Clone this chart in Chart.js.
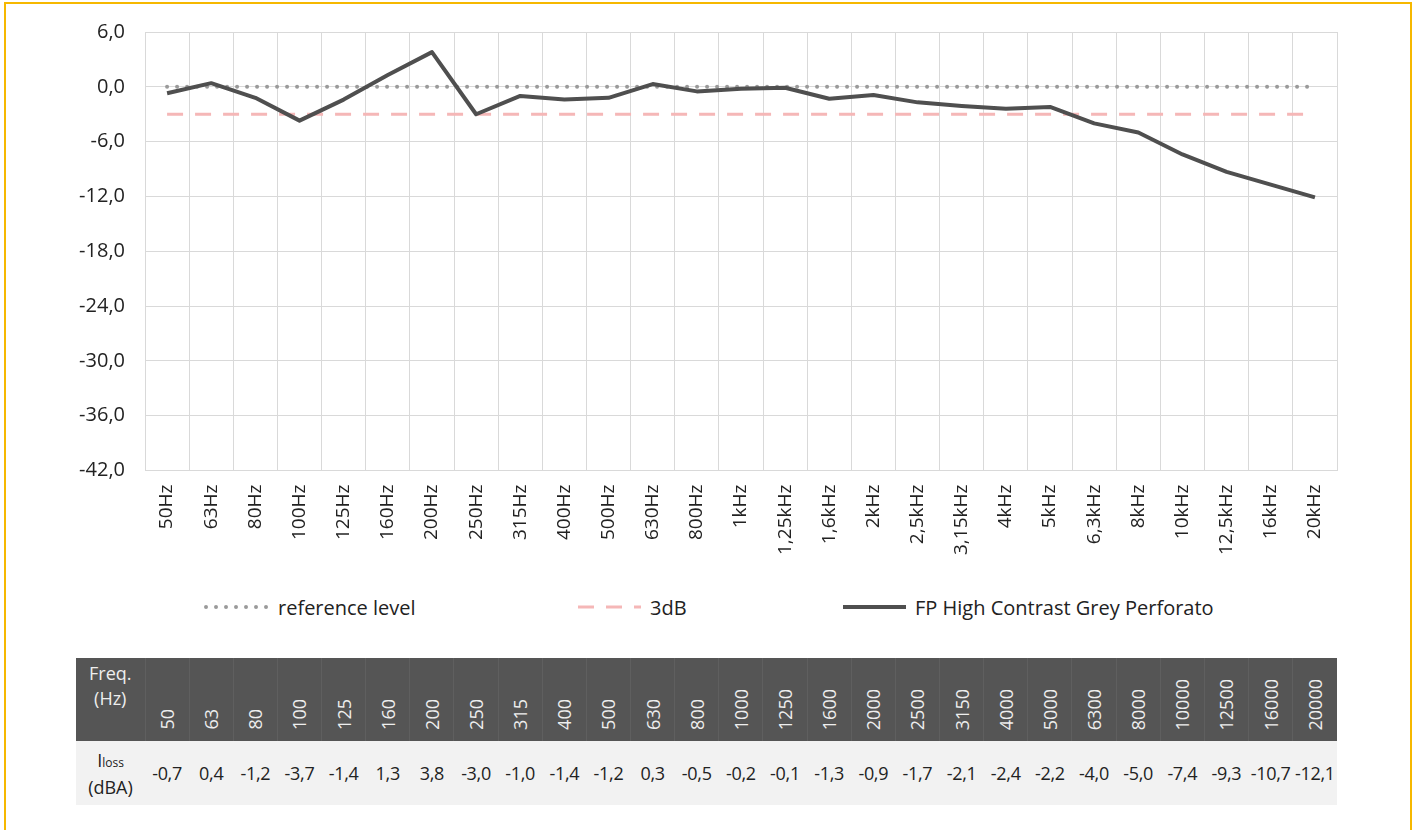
<!DOCTYPE html>
<html>
<head>
<meta charset="utf-8">
<script src="https://cdn.jsdelivr.net/npm/chart.js@4.4.0/dist/chart.umd.min.js"></script>
<style>
  body { margin: 0; background: #fff; font-family: "Open Sans", sans-serif; color: #222; }
  #frame { position: absolute; left: 4px; top: 2px; width: 1408px; height: 900px; border: 2px solid #f6b800; box-sizing: border-box; }
  #chartBox { position: absolute; left: 0; top: 0; width: 1415px; height: 569px; }
  #legend { position: absolute; left: 0; top: 593px; width: 1415px; height: 28px; }
  .lg-item { position: absolute; top: 0; display: flex; align-items: center; font-size: 20px; color: #222; }
  .lg-item canvas { margin-right: 7px; }
  #freqTable { position: absolute; left: 76px; top: 658px; border-collapse: collapse; table-layout: fixed; width: 1261px; }
  #freqTable td { padding: 0; text-align: center; }
  #freqTable tr.head td { background: #555; height: 80px; color: #eee; font-size: 18px; vertical-align: bottom; border-left: 1px solid #5f5f5f; }
  #freqTable tr.head td.first { vertical-align: top; padding-top: 3px; line-height: 25px; border-left: none; font-size: 18px; }
  #freqTable tr.head td .rot { writing-mode: vertical-rl; transform: rotate(180deg); display: inline-block; padding-top: 6px; }
  #freqTable tr.vals td { background: #f2f2f2; height: 64px; font-size: 18px; color: #222; white-space: nowrap; letter-spacing: -0.3px; }
  #freqTable tr.vals td.first { line-height: 24px; letter-spacing: 0; }
  sub { font-size: 12px; vertical-align: 0; }
</style>
</head>
<body>
<div id="frame"></div>
<div id="chartBox"><canvas id="lossChart"></canvas></div>
<div id="legend"></div>
<table id="freqTable">
  <colgroup id="cols"></colgroup>
  <tr class="head" id="headRow"><td class="first">Freq.<br>(Hz)</td></tr>
  <tr class="vals" id="valRow"><td class="first">I<sub>loss</sub><br>(dBA)</td></tr>
</table>
<script>
// frequency bands (chart labels + table header)
const freqLabels = ['50Hz', '63Hz', '80Hz', '100Hz', '125Hz', '160Hz', '200Hz', '250Hz', '315Hz', '400Hz',
    '500Hz', '630Hz', '800Hz', '1kHz', '1,25kHz', '1,6kHz', '2kHz', '2,5kHz', '3,15kHz', '4kHz',
    '5kHz', '6,3kHz', '8kHz', '10kHz', '12,5kHz', '16kHz', '20kHz'];
const freqHz = [50, 63, 80, 100, 125, 160, 200, 250, 315, 400, 500, 630, 800, 1000, 1250, 1600, 2000,
    2500, 3150, 4000, 5000, 6300, 8000, 10000, 12500, 16000, 20000];

// insertion loss, dBA
const lossValues = [-0.7, 0.4, -1.2, -3.7, -1.4, 1.3, 3.8, -3.0, -1.0, -1.4, -1.2, 0.3, -0.5, -0.2, -0.1,
    -1.3, -0.9, -1.7, -2.1, -2.4, -2.2, -4.0, -5.0, -7.4, -9.3, -10.7, -12.1];
const referenceLevel = [0, 0, 0, 0, 0, 0, 0, 0, 0, 0, 0, 0, 0, 0, 0, 0, 0, 0, 0, 0, 0, 0, 0, 0, 0, 0, 0];
const threshold3dB = [-3, -3, -3, -3, -3, -3, -3, -3, -3, -3, -3, -3, -3, -3, -3, -3, -3, -3, -3, -3, -3, -3, -3, -3, -3, -3, -3];

// y axis range
const yMin = -42, yMax = 6, yStep = 6;

const fmt = v => v.toFixed(1).replace('.', ',');

const datasets = [
    {
        label: 'reference level',
        data: referenceLevel,
        borderColor: '#9a9a9a',
        borderWidth: 4,
        borderDash: [0, 10],
        borderCapStyle: 'round',
        pointRadius: 0,
        order: 2
    },
    {
        label: '3dB',
        data: threshold3dB,
        borderColor: '#f5b7b7',
        borderWidth: 3,
        borderDash: [16, 12],
        pointRadius: 0,
        order: 1
    },
    {
        label: 'FP High Contrast Grey Perforato',
        data: lossValues,
        borderColor: '#4f4f4f',
        borderWidth: 4,
        borderJoinStyle: 'round',
        pointRadius: 0,
        tension: 0,
        order: 0
    }
];

new Chart(document.getElementById('lossChart'), {
    type: 'line',
    data: { labels: freqLabels, datasets: datasets },
    options: {
        responsive: true,
        maintainAspectRatio: false,
        animation: false,
        layout: { padding: { top: 22, right: 78, left: 0, bottom: 0 } },
        plugins: { legend: { display: false }, tooltip: { enabled: false } },
        scales: {
            x: {
                offset: true,
                grid: { offset: true, color: '#d9d9d9', drawTicks: false },
                border: { color: '#d9d9d9' },
                ticks: {
                    color: '#222', font: { family: 'Open Sans', size: 19 },
                    minRotation: 90, maxRotation: 90, autoSkip: false, padding: 14
                }
            },
            y: {
                min: yMin, max: yMax,
                grid: { color: '#d9d9d9', drawTicks: false },
                border: { display: false },
                ticks: {
                    stepSize: yStep, color: '#222', padding: 20,
                    font: { family: 'Open Sans', size: 20 },
                    callback: v => fmt(v)
                },
                afterFit: scale => { scale.width = 145; }
            }
        }
    }
});

// legend drawn outside the chart, items spread like the original
const legendPos = [203, 575, 840];
const legendEl = document.getElementById('legend');
datasets.forEach((ds, i) => {
    const item = document.createElement('div');
    item.className = 'lg-item';
    item.style.left = legendPos[i] + 'px';
    const c = document.createElement('canvas');
    c.width = 68; c.height = 28;
    const ctx = c.getContext('2d');
    ctx.strokeStyle = ds.borderColor;
    ctx.lineWidth = ds.borderWidth;
    ctx.lineCap = ds.borderCapStyle || 'butt';
    ctx.setLineDash(ds.borderDash || []);
    ctx.beginPath();
    ctx.moveTo(3, 14);
    ctx.lineTo(66, 14);
    ctx.stroke();
    item.appendChild(c);
    const t = document.createElement('span');
    t.textContent = ds.label;
    item.appendChild(t);
    legendEl.appendChild(item);
});

// data table under the chart
const cols = document.getElementById('cols');
const first = document.createElement('col');
first.style.width = '69px';
cols.appendChild(first);
const headRow = document.getElementById('headRow');
const valRow = document.getElementById('valRow');
freqHz.forEach((f, i) => {
    const col = document.createElement('col');
    col.style.width = (1192 / freqHz.length) + 'px';
    cols.appendChild(col);
    const h = document.createElement('td');
    h.innerHTML = '<span class="rot">' + f + '</span>';
    headRow.appendChild(h);
    const v = document.createElement('td');
    v.textContent = fmt(lossValues[i]);
    valRow.appendChild(v);
});
</script>
</body>
</html>
